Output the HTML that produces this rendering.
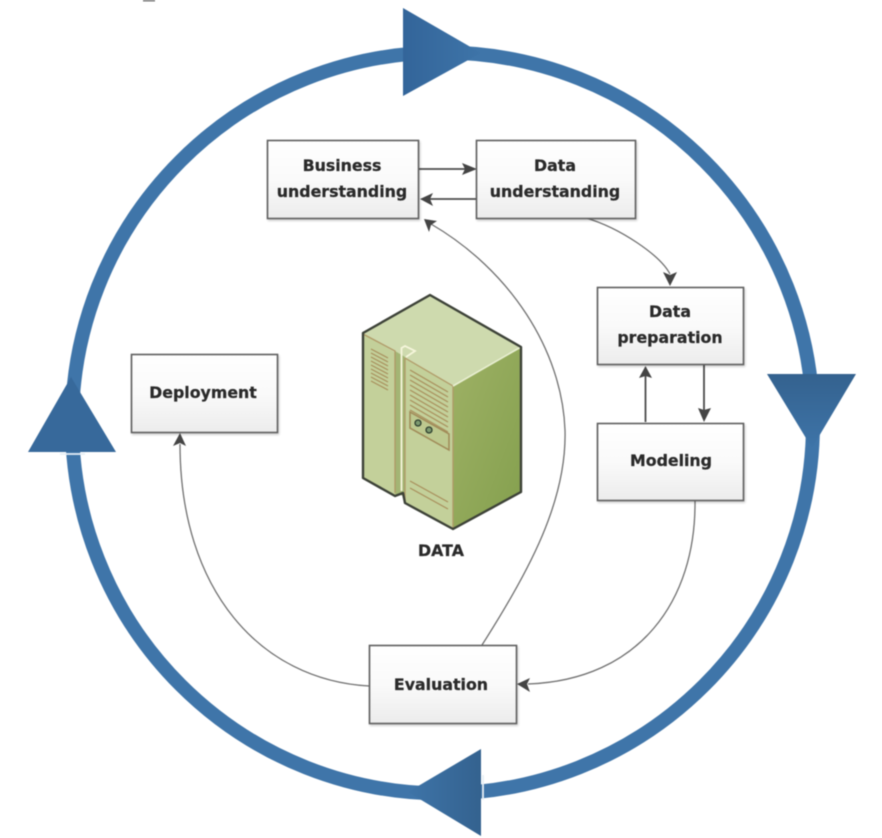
<!DOCTYPE html>
<html><head><meta charset="utf-8"><style>
html,body{margin:0;padding:0;background:#fff}
svg{display:block;filter:blur(.6px)}
text{font-family:"DejaVu Sans","Liberation Sans",sans-serif;font-weight:bold;font-size:15.8px;fill:#2a2a2a;stroke:#2a2a2a;stroke-width:.25;text-anchor:middle}
.b{fill:url(#g);stroke:#5e5e5e;stroke-width:1.6;filter:url(#s)}
.c{fill:none;stroke:#707070;stroke-width:1.3}
.h{fill:#444}
.a{fill:none;stroke:#4c4c4c;stroke-width:1.8}
.v{stroke:#a88f5c;stroke-width:1.2;fill:none}
</style></head><body>
<svg width="882" height="838" viewBox="0 0 882 838" xmlns="http://www.w3.org/2000/svg">
<defs>
<linearGradient id="g" x1="0" y1="0" x2="0" y2="1"><stop offset="0" stop-color="#fff"/><stop offset=".5" stop-color="#fafafa"/><stop offset="1" stop-color="#ececec"/></linearGradient>
<linearGradient id="r" x1="0" y1="0" x2="1" y2="1"><stop offset="0" stop-color="#9eb165"/><stop offset="1" stop-color="#84a04e"/></linearGradient>
<linearGradient id="t1" x1="0" y1="0" x2="1" y2="0"><stop offset="0" stop-color="#33659a"/><stop offset="1" stop-color="#3e74a8"/></linearGradient>
<linearGradient id="t2" x1="0" y1="0" x2="0" y2="1"><stop offset="0" stop-color="#34628f"/><stop offset="1" stop-color="#3e74a8"/></linearGradient>
<linearGradient id="t3" x1="1" y1="0" x2="0" y2="0"><stop offset="0" stop-color="#34628f"/><stop offset="1" stop-color="#3e74a8"/></linearGradient>
<filter id="s" x="-5%" y="-5%" width="110%" height="110%"><feDropShadow dx="1" dy="1.5" stdDeviation="1" flood-color="#000" flood-opacity=".2"/></filter>
</defs>
<rect x="143" y="0" width="12" height="1.500" fill="#777"/>
<circle cx="442.500" cy="423" r="370.500" fill="none" stroke="#3f75a9" stroke-width="14"/>
<polygon points="403,8 403,96 481,53" fill="url(#t1)"/>
<polygon points="767,374 856,374 812,448" fill="url(#t2)"/>
<polygon points="481,749 481,836 408,792" fill="url(#t3)"/>
<polygon points="28,452 116,452 71,377" fill="#37699b"/>
<line x1="483" y1="775" x2="483" y2="800" stroke="#e8eff6" stroke-width="1.800"/>
<line x1="60" y1="454" x2="85" y2="454" stroke="#e8eff6" stroke-width="1.800"/>

<!-- connectors -->
<path class="c" d="M586 218C620 228 660 255 670 274"/>
<polygon class="h" points="670,286 663,272 670,275 677,272"/>
<path class="c" d="M482 645C530 570 567 500 565 430C562 350 510 270 431 224"/>
<polygon class="h" points="424,219 437,221 431,225 429,232"/>
<path class="c" d="M695 501C696 600 640 680 528 684"/>
<polygon class="h" points="517,684 530,678 527,684 530,692"/>
<path class="c" d="M369 686C260 680 180 590 180 444"/>
<polygon class="h" points="180,433 173,446 180,443 186,446"/>
<line class="a" x1="419" y1="169" x2="468" y2="169"/><polygon class="h" points="477,169 462,163 465,169 462,175"/>
<line class="a" x1="476" y1="199" x2="428" y2="199"/><polygon class="h" points="420,199 433,193 430,199 433,206"/>
<line class="a" x1="645.500" y1="422" x2="645.500" y2="374"/><polygon class="h" points="645.500,366 639,378 645.500,376 652,378"/>
<line class="a" x1="704" y1="365" x2="704" y2="414"/><polygon class="h" points="704,422 698,408 704,410 711,408"/>

<!-- boxes -->
<rect class="b" x="267.500" y="140.500" width="151" height="78"/>
<rect class="b" x="476.500" y="140.500" width="159" height="78"/>
<rect class="b" x="597.500" y="287.500" width="146" height="77"/>
<rect class="b" x="597.500" y="423.500" width="146" height="77"/>
<rect class="b" x="131.500" y="354.500" width="146" height="78"/>
<rect class="b" x="369.500" y="645.500" width="147" height="78"/>
<text x="342" y="171">Business</text><text x="342" y="197">understanding</text>
<text x="555" y="171">Data</text><text x="555" y="197">understanding</text>
<text x="670" y="317">Data</text><text x="670" y="343">preparation</text>
<text x="671" y="466">Modeling</text>
<text x="203" y="398">Deployment</text>
<text x="441" y="690">Evaluation</text>
<text x="441" y="556">DATA</text>

<!-- server -->
<polygon points="430,295 521,347 521,492 453,529 405,503 403,493 395,496 363,478 363,333" fill="#c3d09a"/>
<polygon points="430,295 521,347 453,386 363,334" fill="#cedaae"/>
<polygon points="453,386 521,347 521,492 453,529" fill="url(#r)"/>
<polygon points="395,351 405,357 405,496 395,494" fill="#a3b574"/>
<path d="M401.500 491V348L405 346L415 351L406 357" fill="none" stroke="#f6f6dc" stroke-width="1.800"/>
<path d="M453 386V529M363 334L395 351V493M405 358L453 386M405 358V503" fill="none" stroke="#b09a68" stroke-width="1.300"/>
<path d="M453 386L521 347" stroke="#e9efd2" stroke-width="1.600" fill="none"/>
<path class="v" d="M371 349l17 9M371 353l17 9M371 357l17 9M371 361l17 9M371 365l17 9M371 369l17 9M371 373l17 9M371 377l17 9M371 381l17 9"/>
<path class="v" d="M410 370l38 22M410 375l38 22M410 380l38 22M410 385l38 22M410 390l38 22M410 395l38 22M410 400l38 22M410 405l38 22M410 410l38 22"/>
<path class="v" d="M410 481l38 21M410 488l38 21"/>
<polygon points="410,412 449,434 449,450 410,428" fill="#bdc98f" stroke="#a08a58" stroke-width="1.500"/>
<circle cx="418" cy="423" r="3" fill="#7d9a70" stroke="#2f4030" stroke-width="1.300"/>
<circle cx="429" cy="430" r="3" fill="#7d9a70" stroke="#2f4030" stroke-width="1.300"/>
<polygon points="430,295 521,347 521,492 453,529 405,503 403,493 395,496 363,478 363,333" fill="none" stroke="#3d4238" stroke-width="2.400" stroke-linejoin="round"/>
</svg>
</body></html>
